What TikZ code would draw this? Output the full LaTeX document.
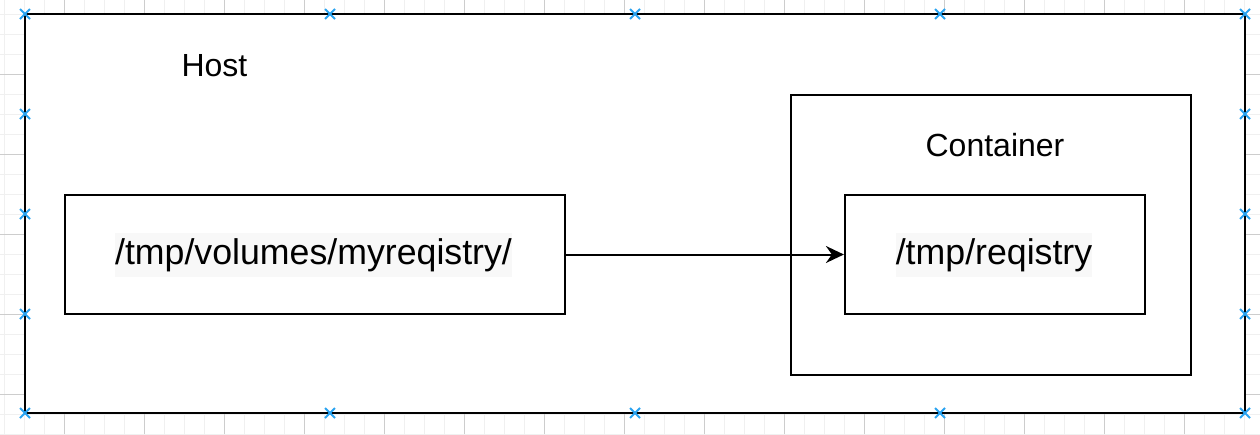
\documentclass[tikz,border=0pt]{standalone}
\usepackage{fontspec}
\setmainfont{Liberation Sans}
\usetikzlibrary{arrows.meta}
\definecolor{gridminor}{RGB}{240,240,240}
\definecolor{gridmajor}{RGB}{205,205,205}
\definecolor{handle}{RGB}{41,163,241}
\definecolor{textbg}{RGB}{248,248,248}
\tikzset{
  box/.style={draw=black, line width=2.2pt, fill=white, inner sep=0pt},
  lbl/.style={font=\fontsize{32}{38}\selectfont, inner sep=0pt, anchor=base},
  pathtext/.style={font=\fontsize{35.7}{42}\selectfont, fill=textbg, inner xsep=0pt, inner ysep=0pt, text height=31pt, text depth=13pt, anchor=base},
  arrow/.style={line width=2pt, -{Stealth[length=18pt,width=17pt,inset=6pt]}},
  handlemark/.style={draw=handle, line width=2pt},
  gminor/.style={draw=gridminor, line width=1pt},
  gmajor/.style={draw=gridmajor, line width=1pt}
}
\begin{document}
\begin{tikzpicture}[x=1pt,y=-1pt]
\useasboundingbox (0,0) rectangle (1260,434);
% grid
\foreach \x in {4,24,...,1264} \draw[gminor] (\x,0) -- (\x,434);
\foreach \y in {14,34,...,434} \draw[gminor] (0,\y) -- (1260,\y);
\foreach \x in {64,144,...,1264} \draw[gmajor] (\x,0) -- (\x,434);
\foreach \y in {74,154,...,394} \draw[gmajor] (0,\y) -- (1260,\y);
% boxes
\node[box, minimum width=1220pt, minimum height=399pt] (host) at (635,213.5) {};
\node[box, minimum width=500pt, minimum height=119pt] (src) at (315,254.5) {};
\node[box, minimum width=400pt, minimum height=280pt] (container) at (991,235) {};
\node[box, minimum width=300pt, minimum height=119pt] (dst) at (995,254.5) {};
% labels
\node[lbl] (hostlbl) at (214.5,76) {Host};
\node[lbl] (contlbl) at (995,156) {Container};
\node[pathtext] (srctext) at (313.5,264) {/tmp/volumes/myreqistry/};
\node[pathtext] (dsttext) at (994,264) {/tmp/reqistry};
% connector
\draw[arrow] (src.east) -- (dst.west);
% selection handles
\foreach \x/\y in {25/14,330/14,635/14,940/14,1245/14,
                   25/413,330/413,635/413,940/413,1245/413,
                   25/114,25/214,25/314,1245/114,1245/214,1245/314}
  \draw[handlemark] (\x-5,\y-5) -- (\x+5,\y+5) (\x-5,\y+5) -- (\x+5,\y-5);
\end{tikzpicture}
\end{document}
